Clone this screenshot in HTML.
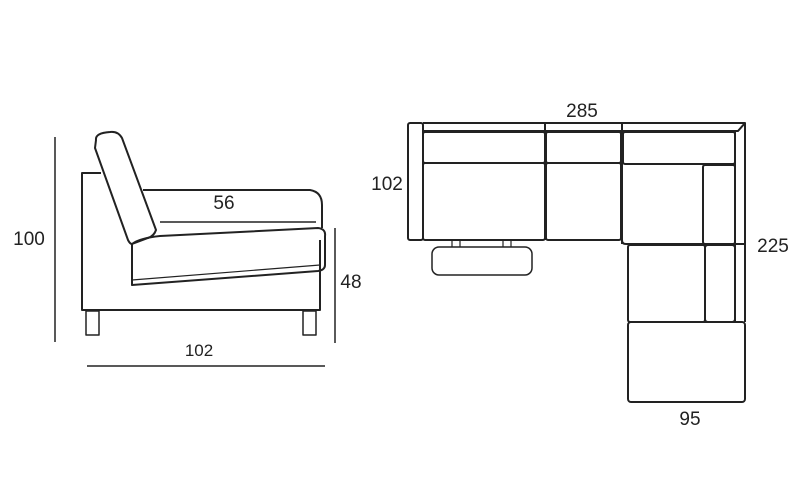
<!DOCTYPE html>
<html><head><style>body{margin:0;background:#fff}svg{display:block}text{font-family:"Liberation Sans",sans-serif;fill:#222}</style></head>
<body>
<svg width="800" height="500" viewBox="0 0 800 500" fill="none" stroke="#222" stroke-width="2" stroke-linejoin="round">
<!-- side view -->
<line x1="55" y1="137" x2="55" y2="342" stroke-width="1.5"/>
<line x1="335" y1="228" x2="335" y2="343" stroke-width="1.5"/>
<line x1="87" y1="366" x2="325" y2="366" stroke-width="1.5"/>
<path d="M101,173 H82 V310 H320 V240"/>
<path d="M143,190 H310 Q322,192 322,205 V228"/>
<line x1="160" y1="222" x2="316" y2="222" stroke-width="1.5"/>
<path d="M132,244 Q140,238 160,236 L318,228 Q326,229 325,236 L325,265 Q325,270 318,271 L132,285 Z"/>
<path d="M132,280 L320,265" stroke-width="1.2"/>
<path d="M96,140 Q95,133 110,132 Q118,131 122,138 L156,230 Q154,236 148,238 L132,244 Q130,244 128,240 L95,148 Z"/>
<rect x="86" y="311" width="13" height="24" stroke-width="1.5"/>
<rect x="303" y="311" width="13" height="24" stroke-width="1.5"/>
<!-- top view -->
<rect x="408" y="123" width="15" height="117" rx="2"/>
<path d="M423,123 H745 V322"/>
<path d="M423,131 H738 L745,123"/>
<line x1="735" y1="131" x2="735" y2="322"/>
<line x1="545" y1="123" x2="545" y2="240"/>
<line x1="622" y1="123" x2="622" y2="244"/>
<rect x="423" y="132" width="122" height="31" rx="2"/>
<rect x="546" y="132" width="75" height="31" rx="2"/>
<rect x="623" y="132" width="112" height="32" rx="2"/>
<rect x="423" y="163" width="122" height="77" rx="2"/>
<rect x="546" y="163" width="75" height="77" rx="2"/>
<path d="M622,164 V240 Q622,244 626,244 H745"/>
<rect x="703" y="165" width="32" height="79" rx="2"/>
<rect x="628" y="245" width="77" height="77" rx="2"/>
<rect x="705" y="245" width="30" height="77" rx="3"/>
<rect x="628" y="322" width="117" height="80" rx="3"/>
<rect x="432" y="247" width="100" height="28" rx="7" stroke-width="1.5"/>
<path d="M452,240 V247 M460,240 V247 M503,240 V247 M511,240 V247" stroke-width="1.2"/>
<g stroke="none" font-size="19">
<text x="224" y="209" text-anchor="middle">56</text>
<text x="29" y="245" text-anchor="middle">100</text>
<text x="351" y="288" text-anchor="middle">48</text>
<text x="199" y="356" text-anchor="middle" font-size="17">102</text>
<text x="582" y="117" text-anchor="middle">285</text>
<text x="387" y="190" text-anchor="middle">102</text>
<text x="773" y="252" text-anchor="middle">225</text>
<text x="690" y="425" text-anchor="middle">95</text>
</g>
</svg>
</body></html>
